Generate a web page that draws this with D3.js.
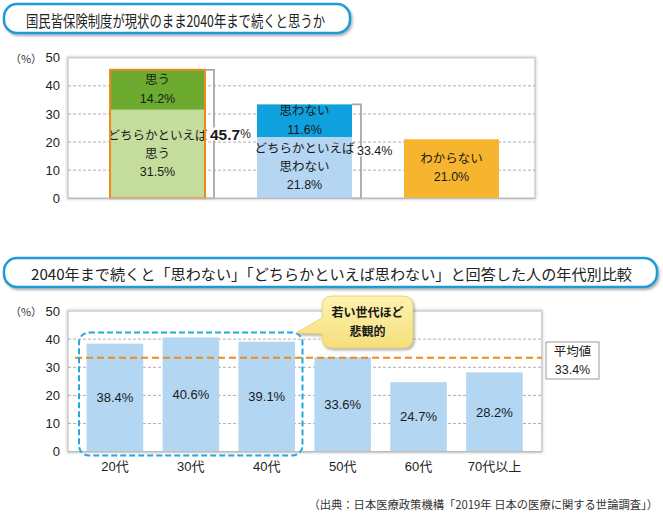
<!DOCTYPE html>
<html><head><meta charset="utf-8">
<script src="https://cdn.jsdelivr.net/npm/d3@7"></script>
<style>body{margin:0;background:#fff}</style>
</head><body>
<script>
// ---------- data ----------
const topTitle = "国民皆保険制度が現状のまま2040年まで続くと思うか";
const bottomTitle = "2040年まで続くと「思わない」「どちらかといえば思わない」と回答した人の年代別比較";
const sourceText = "（出典：日本医療政策機構「2019年 日本の医療に関する世論調査」）";

const topGroups = ["思う計", "思わない計", "わからない"];
const topLowerValues = [31.5, 21.8, 21.0];
const topUpperValues = [14.2, 11.6, 0];
const topLowerLabels = [["どちらかといえば", "思う"], ["どちらかといえば", "思わない"], ["わからない"]];
const topUpperLabels = [["思う"], ["思わない"], []];
const topTotals = [45.7, 33.4, null];

const ageGroups = ["20代", "30代", "40代", "50代", "60代", "70代以上"];
const ageValues = [38.4, 40.6, 39.1, 33.6, 24.7, 28.2];
const averageValue = 33.4;
const averageLabel = "平均値";
const calloutLines = ["若い世代ほど", "悲観的"];

const yTicks = [0, 10, 20, 30, 40, 50];

// ---------- setup ----------
const W = 663, H = 513;
const FONT = "'Liberation Sans', 'Noto Sans CJK JP', sans-serif";
const JFONT = "'Noto Sans CJK JP', sans-serif";
const svg = d3.select("body").append("svg").attr("width", W).attr("height", H)
  .style("font-family", FONT);

const defs = svg.append("defs");
const sh = defs.append("filter").attr("id", "shadow").attr("x", "-10%").attr("y", "-30%").attr("width", "120%").attr("height", "160%");
sh.append("feDropShadow").attr("dx", 1.5).attr("dy", 2).attr("stdDeviation", 1.2)
  .attr("flood-color", "#777").attr("flood-opacity", 0.55);
const fs = defs.append("filter").attr("id", "frameShadow").attr("x", "-5%").attr("y", "-5%").attr("width", "110%").attr("height", "110%");
fs.append("feDropShadow").attr("dx", 0).attr("dy", 0).attr("stdDeviation", 1.5)
  .attr("flood-color", "#888").attr("flood-opacity", 0.6);
const yg = defs.append("linearGradient").attr("id", "yellowGrad").attr("x1", 0).attr("y1", 0).attr("x2", 0).attr("y2", 1);
yg.append("stop").attr("offset", "0%").attr("stop-color", "#fdf2b0");
yg.append("stop").attr("offset", "100%").attr("stop-color", "#f6de7c");

function titleBox(x, y, w, h, text, tx, tlen, size) {
  svg.append("rect").attr("x", x).attr("y", y).attr("width", w).attr("height", h)
    .attr("rx", 13).attr("fill", "#fff").attr("stroke", "#1d9bd8").attr("stroke-width", 2.5)
    .attr("filter", "url(#shadow)");
  svg.append("text").attr("x", tx).attr("y", y + h / 2 + 1).attr("dominant-baseline", "central")
    .attr("font-family", JFONT).attr("font-size", size).attr("fill", "#222")
    .attr("textLength", tlen).attr("lengthAdjust", "spacingAndGlyphs").text(text);
}

function frame(x0, x1, y0, y1, scale) {
  svg.append("rect").attr("x", x0).attr("y", y1).attr("width", x1 - x0).attr("height", y0 - y1)
    .attr("fill", "#fff").attr("stroke", "#cfcfcf").attr("stroke-width", 1.5)
    .attr("filter", "url(#frameShadow)");
  svg.append("g").selectAll("line").data(yTicks.filter(t => t > 0 && t < 50)).join("line")
    .attr("x1", x0).attr("x2", x1).attr("y1", d => scale(d)).attr("y2", d => scale(d))
    .attr("stroke", "#9a9a9a").attr("stroke-width", 0.8).attr("stroke-dasharray", "3,2");
  const ax = d3.axisLeft(scale).tickValues(yTicks).tickSize(0).tickPadding(0);
  const g = svg.append("g").attr("transform", `translate(${x0 - 8},0)`).call(ax);
  g.select(".domain").remove();
  g.selectAll("text").attr("font-size", 13).attr("fill", "#222").attr("font-family", FONT);
  svg.append("text").attr("x", 26).attr("y", scale(50)).attr("dominant-baseline", "central")
    .attr("text-anchor", "middle").attr("font-size", 11).attr("fill", "#333").attr("font-family", JFONT).text("（%）");
}

function multiline(x, cy, lines, size, spacing, weight) {
  const n = lines.length;
  lines.forEach((l, i) => {
    svg.append("text").attr("x", x).attr("y", cy + (i - (n - 1) / 2) * spacing)
      .attr("text-anchor", "middle").attr("dominant-baseline", "central")
      .attr("font-size", size).attr("font-weight", weight || "normal").attr("fill", "#1a1a1a").text(l);
  });
}

// ---------- top chart ----------
titleBox(4, 4, 346, 29, topTitle, 26, 299, 16);

const yTop = d3.scaleLinear().domain([0, 50]).range([198.3, 57.7]);
const xTop = d3.scaleBand().domain(topGroups).range([84, 525]).paddingInner(0.354).paddingOuter(0.177);
frame(68, 535, yTop(0), yTop(50), yTop);

const lowerColors = ["#c5dd9c", "#b4d6f3", "#f7b52f"];
const upperColors = ["#6cab2f", "#0ea1de", "none"];

topGroups.forEach((gname, i) => {
  const x = xTop(gname), bw = xTop.bandwidth(), cx = x + bw / 2;
  const lo = topLowerValues[i], up = topUpperValues[i];
  svg.append("rect").attr("x", x).attr("width", bw).attr("y", yTop(lo)).attr("height", yTop(0) - yTop(lo))
    .attr("fill", lowerColors[i]);
  if (up > 0) {
    svg.append("rect").attr("x", x).attr("width", bw).attr("y", yTop(lo + up)).attr("height", yTop(lo) - yTop(lo + up))
      .attr("fill", upperColors[i]);
    multiline(cx, (yTop(lo) + yTop(lo + up)) / 2 - 0.5, topUpperLabels[i].concat([up.toFixed(1) + "%"]), 12.5, 19);
  }
  multiline(cx, (yTop(0) + yTop(lo)) / 2 - 0.5, topLowerLabels[i].concat([lo.toFixed(1) + "%"]), 12.5, 18);
  if (i === 0) {
    svg.append("rect").attr("x", x).attr("width", bw).attr("y", yTop(lo + up)).attr("height", yTop(0) - yTop(lo + up))
      .attr("fill", "none").attr("stroke", "#ee8a1c").attr("stroke-width", 2);
  }
  const tot = topTotals[i];
  if (tot !== null) {
    const bx = x + bw + 9;
    svg.append("path").attr("d", `M${x + bw},${yTop(tot)}H${bx}V${yTop(0)}H${x + bw}`)
      .attr("fill", "none").attr("stroke", "#a8a8a8").attr("stroke-width", 1.8);
    const ty = yTop(tot / 2);
    const t = svg.append("text").attr("x", bx - 4).attr("y", ty).attr("dominant-baseline", "central").attr("fill", "#1a1a1a");
    if (i === 0) {
      t.append("tspan").attr("font-size", 15.5).attr("font-weight", "bold").text(tot.toFixed(1));
      t.append("tspan").attr("font-size", 12).text("%");
    } else {
      t.attr("font-size", 12.5).text(tot.toFixed(1) + "%");
    }
    const bb = t.node().getBBox();
    svg.insert("rect", () => t.node()).attr("x", bb.x).attr("y", bb.y + 2).attr("width", bb.width).attr("height", bb.height - 4).attr("fill", "#fff");
  }
});
svg.append("line").attr("x1", 68).attr("x2", 535).attr("y1", yTop(0)).attr("y2", yTop(0)).attr("stroke", "#bdbdbd").attr("stroke-width", 1.2);

// ---------- bottom chart ----------
titleBox(4, 258, 653, 29, bottomTitle, 31, 601, 15);

const yBot = d3.scaleLinear().domain([0, 50]).range([451.7, 311]);
const xBot = d3.scaleBand().domain(ageGroups).range([77, 532.4]).paddingInner(0.255).paddingOuter(0.1275);
frame(68, 541.7, yBot(0), yBot(50), yBot);

svg.append("g").selectAll("rect").data(ageGroups).join("rect")
  .attr("x", d => xBot(d)).attr("width", xBot.bandwidth())
  .attr("y", (d, i) => yBot(ageValues[i])).attr("height", (d, i) => yBot(0) - yBot(ageValues[i]))
  .attr("fill", "#b3d6f3");
svg.append("g").selectAll("text").data(ageGroups).join("text")
  .attr("x", d => xBot(d) + xBot.bandwidth() / 2)
  .attr("y", (d, i) => (yBot(0) + yBot(ageValues[i])) / 2)
  .attr("text-anchor", "middle").attr("dominant-baseline", "central")
  .attr("font-size", 13).attr("fill", "#1a1a1a").text((d, i) => ageValues[i].toFixed(1) + "%");
svg.append("line").attr("x1", 68).attr("x2", 541.7).attr("y1", yBot(0)).attr("y2", yBot(0)).attr("stroke", "#bdbdbd").attr("stroke-width", 1.2);

const xa = d3.axisBottom(xBot).tickSize(0).tickPadding(0);
const xg = svg.append("g").attr("transform", `translate(0,${yBot(0) + 10})`).call(xa);
xg.select(".domain").remove();
xg.selectAll("text").attr("font-size", 13).attr("fill", "#222").attr("font-family", FONT).attr("dy", "0.75em");

// average line
svg.append("line").attr("x1", 75).attr("x2", 541.7).attr("y1", yBot(averageValue)).attr("y2", yBot(averageValue))
  .attr("stroke", "#f08a17").attr("stroke-width", 2).attr("stroke-dasharray", "7,4");
svg.append("rect").attr("x", 546).attr("y", 342).attr("width", 53).attr("height", 37)
  .attr("fill", "#fff").attr("stroke", "#9a9a9a").attr("stroke-width", 1);
svg.append("text").attr("x", 572.5).attr("y", 352).attr("text-anchor", "middle").attr("dominant-baseline", "central")
  .attr("font-size", 12.5).attr("fill", "#1a1a1a").text(averageLabel);
svg.append("text").attr("x", 572.5).attr("y", 370).attr("text-anchor", "middle").attr("dominant-baseline", "central")
  .attr("font-size", 12.5).attr("fill", "#1a1a1a").text(averageValue.toFixed(1) + "%");

// dashed highlight around 20-40代
svg.append("rect").attr("x", 79).attr("y", 332.5).attr("width", 223.5).attr("height", 123)
  .attr("rx", 10).attr("fill", "none").attr("stroke", "#24a6e0").attr("stroke-width", 2).attr("stroke-dasharray", "6,3");

// callout
const cg = svg.append("g").attr("filter", "url(#shadow)");
cg.append("path")
  .attr("d", "M332,296 H403 Q413,296 413,306 V338 Q413,348 403,348 H332 Q322,348 322,338 V334 L296,333 L322,318 V306 Q322,296 332,296 Z")
  .attr("fill", "url(#yellowGrad)").attr("stroke", "#e2cb6a").attr("stroke-width", 0.8);
multiline(367.5, 322.5, calloutLines, 12, 19, "bold");

// source
svg.append("text").attr("x", 658).attr("y", 503.5).attr("text-anchor", "end").attr("dominant-baseline", "central")
  .attr("font-family", JFONT).attr("font-size", 11.3).attr("fill", "#333").text(sourceText);
</script>
</body></html>
